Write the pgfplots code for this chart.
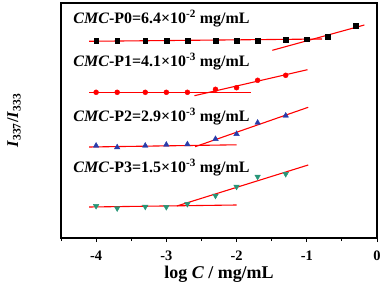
\documentclass[border=0pt]{standalone}
\usepackage{pgfplots}
\pgfplotsset{compat=1.18}
\usepackage{fontspec}
\setmainfont{Liberation Serif}
\definecolor{pblue}{RGB}{40,60,170}
\definecolor{pteal}{RGB}{40,150,120}
\begin{document}
\begin{tikzpicture}
\begin{axis}[
  scale only axis, width=316bp, height=235bp,
  xmin=-4.5, xmax=0, ymin=0, ymax=235,
  axis line style={line width=1.2pt},
  xtick={-4,-3,-2,-1,0}, minor xtick={-4.5,-3.5,-2.5,-1.5,-0.5},
  xtick pos=bottom, tick align=outside,
  major tick length=4bp, minor tick length=3bp,
  every tick/.style={black, line width=1pt},
  ytick=\empty,
  xticklabel style={font=\fontsize{14.5}{16}\selectfont\bfseries, anchor=base, yshift=-18.8bp, inner sep=0pt},
  xticklabel={\pgfmathprintnumber[assume math mode=true]{\tick}},
  xlabel={\fontsize{18}{20}\selectfont\bfseries log \textit{C} / mg/mL},
  xlabel style={at={(rel axis cs:0.5,0)}, anchor=center, yshift=-36bp, inner sep=0pt},
  ylabel={\fontsize{16.5}{18}\selectfont\bfseries\textit{I}\textsubscript{337}/\textit{I}\textsubscript{333}},
  ylabel style={at={(rel axis cs:0,0.5)}, anchor=center, yshift=47bp},
  clip=false,
]
% P0
\addplot[only marks, mark=square*, mark size=2.4bp, black] coordinates {
(-4,197)(-3.7,197)(-3.3,197)(-3,197)(-2.7,197)(-2.3,197)(-2,197)(-1.7,197)(-1.3,198.5)(-1,198.7)(-0.7,201)(-0.3,212)};
\addplot[red, line width=1.1pt] coordinates {(-4.1,196.7)(-0.78,199)};
\addplot[red, line width=1.1pt] coordinates {(-1.49,187.7)(-0.18,213)};
% P1
\addplot[only marks, mark=*, mark size=2.5bp, red] coordinates {
(-4,145.7)(-3.7,145.7)(-3.3,145.7)(-3,145.7)(-2.7,145.7)(-2.3,148.7)(-2,150.3)(-1.7,157.7)(-1.3,162.7)};
\addplot[red, line width=1.1pt] coordinates {(-4.1,145.7)(-1.8,145.7)};
\addplot[red, line width=1.1pt] coordinates {(-2.6,142.3)(-0.99,168.3)};
% P2
\addplot[only marks, mark=triangle*, mark size=3.2bp, pblue] coordinates {
(-4,92.3)(-3.7,90.7)(-3.3,92.3)(-3,93.3)(-2.7,93.7)(-2.3,99)(-2,104)(-1.7,115.3)(-1.3,122.3)};
\addplot[red, line width=1.1pt] coordinates {(-4.1,91)(-2,93.2)};
\addplot[red, line width=1.1pt] coordinates {(-2.59,91.3)(-0.98,130.7)};
% P3
\addplot[only marks, mark=triangle*, mark options={rotate=180}, mark size=3.2bp, pteal] coordinates {
(-4,32)(-3.7,29.7)(-3.3,31.3)(-3,31)(-2.7,34)(-2.3,42.3)(-2,51.3)(-1.7,61.3)(-1.3,64)};
\addplot[red, line width=1.1pt] coordinates {(-4.1,31)(-2,33)};
\addplot[red, line width=1.1pt] coordinates {(-2.85,32)(-0.98,73)};
% labels
\node[anchor=base west, font=\fontsize{16}{18}\selectfont\bfseries, inner sep=0pt] at (axis cs:-4.325,214) {\textit{CMC}-P0=6.4×10\textsuperscript{-2} mg/mL};
\node[anchor=base west, font=\fontsize{16}{18}\selectfont\bfseries, inner sep=0pt] at (axis cs:-4.325,171.3) {\textit{CMC}-P1=4.1×10\textsuperscript{-3} mg/mL};
\node[anchor=base west, font=\fontsize{16}{18}\selectfont\bfseries, inner sep=0pt] at (axis cs:-4.325,116.3) {\textit{CMC}-P2=2.9×10\textsuperscript{-3} mg/mL};
\node[anchor=base west, font=\fontsize{16}{18}\selectfont\bfseries, inner sep=0pt] at (axis cs:-4.325,65.7) {\textit{CMC}-P3=1.5×10\textsuperscript{-3} mg/mL};
\end{axis}
\pgfresetboundingbox
\path[use as bounding box] (-61bp,-48bp) rectangle (321bp,238bp);
\end{tikzpicture}
\end{document}
